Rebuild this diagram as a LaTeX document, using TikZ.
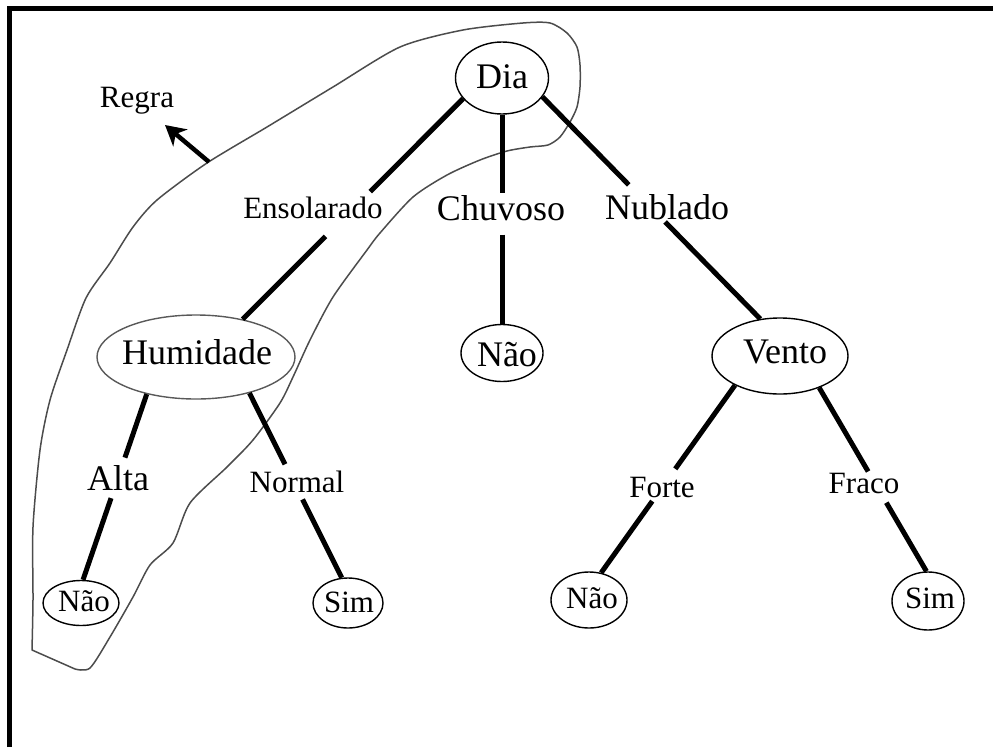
\documentclass[tikz,border=0pt]{standalone}
\usepackage{fontspec}
\setmainfont{Liberation Serif}
\usetikzlibrary{arrows.meta,shapes.geometric}
\begin{document}
\begin{tikzpicture}[x=1pt,y=-1pt,
  oval/.style 2 args={ellipse, draw, line width=1.4pt, inner sep=0pt,
    minimum width=#1pt, minimum height=#2pt},
  big/.style={font=\fontsize{36}{40}\selectfont, inner sep=0pt, anchor=base},
  small/.style={font=\fontsize{31}{35}\selectfont, inner sep=0pt, anchor=base},
  branch/.style={line width=5pt},
  frame/.style={line width=5pt},
  lasso/.style={draw=black!70, line width=1.5pt, line join=round}
]
\useasboundingbox (0,0) rectangle (993,747);

% frame along the left and top
\draw[frame] (9.5,747) -- (9.5,8) -- (995,8);

% outline grouping the rule Dia -> Ensolarado -> Humidade -> Alta -> Nao
\draw[lasso] plot[smooth, tension=0.45] coordinates {
  (32,650) (33,600) (33,527) (40,450) (50,400) (67,350) (86,298) (110,263)
  (133,227) (157,200) (207,163) (267,127) (333,87) (400,47) (463,30)
  (523,23) (550,23) (567,33) (577,47) (580,65) (580,87) (577,107) (570,122)
  (560,137) (548,145) (530,147) (507,151) (480,160) (447,175) (413,197)
  (380,233) (367,250) (333,297) (310,340) (293,377) (280,403) (253,440)
  (227,467) (190,503) (173,543) (150,565) (133,597) (110,637) (90,668) (75,669)}
  -- cycle;

% tree nodes
\node[oval={93}{72}] (dia) at (502,78) {};
\node[big] (dia-t) at (502,88) {Dia};
\node[oval={198}{84}, draw=black!65] (hum) at (196,357) {};
\node[big] (hum-t) at (197,364) {Humidade};
\node[oval={82}{57}] (naom) at (502,353) {};
\node[big] (naom-t) at (507,366) {Não};
\node[oval={136}{76}] (vento) at (780,356) {};
\node[big] (vento-t) at (785,363) {Vento};
\node[oval={76}{45}] (naol) at (81,603) {};
\node[small] (naol-t) at (84,611) {Não};
\node[oval={70}{50}] (siml) at (348,603) {};
\node[small] (siml-t) at (349,612) {Sim};
\node[oval={76}{56}] (naor) at (589,600) {};
\node[small] (naor-t) at (592,608) {Não};
\node[oval={72}{58}] (simr) at (928,601) {};
\node[small] (simr-t) at (930,608) {Sim};

% branch labels
\node[small] (ens) at (313,218) {Ensolarado};
\node[big] (chu) at (501,220) {Chuvoso};
\node[big] (nub) at (667,219) {Nublado};
\node[big] (alta) at (118,490) {Alta};
\node[small] (normal) at (297,492) {Normal};
\node[small] (forte) at (662,497) {Forte};
\node[small] (fraco) at (864,493) {Fraco};
\node[small] (regra) at (137,107) {Regra};

% branches, each broken where its label sits
\path (dia.208) -- (hum.39) coordinate[pos=0.421] (e1a) coordinate[pos=0.624] (e1b);
\draw[branch] (dia.208) -- (e1a) (e1b) -- (hum.39);
\path (dia.south) -- (naom.north) coordinate[pos=0.374] (e2a) coordinate[pos=0.573] (e2b);
\draw[branch] (dia.south) -- (e2a) (e2b) -- (naom.north);
\path (dia.335) -- (vento.118) coordinate[pos=0.396] (e3a) coordinate[pos=0.563] (e3b);
\draw[branch] (dia.335) -- (e3a) (e3b) -- (vento.118);
\path (hum.217) -- (naol.85) coordinate[pos=0.342] (e4a) coordinate[pos=0.56] (e4b);
\draw[branch] (hum.217) -- (e4a) (e4b) -- (naol.85);
\path (hum.326) -- (siml.104) coordinate[pos=0.386] (e5a) coordinate[pos=0.576] (e5b);
\draw[branch] (hum.326) -- (e5a) (e5b) -- (siml.104);
\path (vento.213) -- (naor.66) coordinate[pos=0.446] (e6a) coordinate[pos=0.618] (e6b);
\draw[branch] (vento.213) -- (e6a) (e6b) -- (naor.66);
\path (vento.321) -- (simr.93) coordinate[pos=0.456] (e7a) coordinate[pos=0.626] (e7b);
\draw[branch] (vento.321) -- (e7a) (e7b) -- (simr.93);

% arrow from the outline towards the "Regra" caption
\coordinate (rule-from) at (209,162);
\coordinate (rule-to) at (165,125);
\draw[line width=4.5pt, -{Stealth[length=20pt, width=22pt, inset=6pt]}]
  (rule-from) -- (rule-to);
\end{tikzpicture}
\end{document}
